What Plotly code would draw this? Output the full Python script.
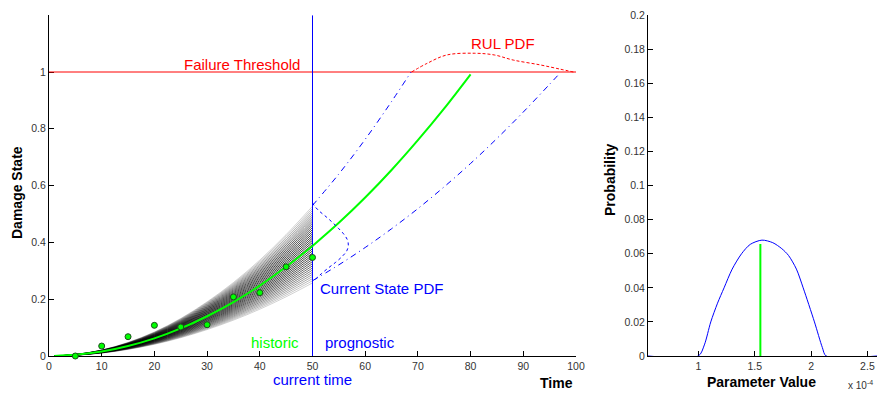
import numpy as np
import plotly.graph_objects as go

# ---------------- data ----------------
# measurements (historic)
meas_t = [5, 10, 15, 20, 25, 30, 35, 40, 45, 50]
meas_y = [0.0, 0.035, 0.068, 0.108, 0.102, 0.110, 0.208, 0.223, 0.314, 0.347]

# fitted damage trajectory (historic part)
fit_t = [1, 5, 10, 15, 20, 25, 30, 35, 40, 45, 50]
fit_y = [0.0002, 0.004, 0.0155, 0.035, 0.062, 0.097, 0.140, 0.190, 0.248, 0.314, 0.3875]

# prognosis (median) trajectory
prog_t = [50, 55, 60, 65, 70, 75, 80]
prog_y = [0.3875, 0.469, 0.558, 0.655, 0.760, 0.872, 0.992]

# prediction bounds
upper_t = [50, 55, 60, 65, 68.7]
upper_y = [0.53, 0.641, 0.763, 0.896, 1.0]
lower_t = [50, 55, 60, 65, 70, 75, 80, 85, 90, 95, 97]
lower_y = [0.265, 0.321, 0.382, 0.448, 0.519, 0.596, 0.678, 0.766, 0.859, 0.957, 0.997]

# particle parameter values (x 1e-4) for the trajectory fan
fan_theta = [1.03, 1.06, 1.09, 1.12, 1.15, 1.18, 1.21, 1.24, 1.27, 1.30, 1.33, 1.36,
             1.39, 1.42, 1.45, 1.48, 1.51, 1.54, 1.57, 1.60, 1.63, 1.66, 1.69, 1.72,
             1.75, 1.78, 1.81, 1.84, 1.87, 1.90, 1.93, 1.96, 1.99, 2.02, 2.05, 2.08, 2.11]
fit_theta = 1.55

# current state PDF (drawn sideways at t = 50)
cs_t = [50.0, 50.3, 51.3, 52.6, 53.8, 54.9, 55.9, 56.6, 56.8, 56.5, 55.6, 54.4, 53.0, 51.7, 50.5, 50.0]
cs_y = [0.54, 0.53, 0.51, 0.49, 0.47, 0.45, 0.43, 0.41, 0.39, 0.37, 0.35, 0.33, 0.31, 0.29, 0.27, 0.265]

# RUL PDF (above the threshold)
rul_t = [68.8, 71.7, 75.5, 80.8, 84.5, 88.1, 93.2, 97.0, 99.5]
rul_y = [1.0, 1.03, 1.06, 1.066, 1.06, 1.042, 1.025, 1.01, 1.0]

# parameter PDF (right panel), x in units of 1e-4
par_x = [0.553, 1.0, 1.053, 1.11, 1.17, 1.228, 1.30, 1.383, 1.46, 1.564, 1.66, 1.74, 1.80, 1.87, 1.93, 2.03, 2.10, 2.134, 2.585]
par_y = [0.0, 0.0, 0.0065, 0.02, 0.031, 0.04, 0.051, 0.06, 0.0655, 0.068, 0.0665, 0.063, 0.059, 0.051, 0.04, 0.02, 0.005, 0.0, 0.0]
par_est = 1.55
par_est_p = 0.0657

x1_ticks = [0, 10, 20, 30, 40, 50, 60, 70, 80, 90, 100]
y1_ticks = [0, 0.2, 0.4, 0.6, 0.8, 1]
y1_text = ["0", "0.2", "0.4", "0.6", "0.8", "1"]
x2_ticks = [1, 1.5, 2, 2.5]
x2_text = ["1", "1.5", "2", "2.5"]
y2_ticks = [0, 0.02, 0.04, 0.06, 0.08, 0.1, 0.12, 0.14, 0.16, 0.18, 0.2]
y2_text = ["0", "0.02", "0.04", "0.06", "0.08", "0.1", "0.12", "0.14", "0.16", "0.18", "0.2"]

t_now = 50
threshold = 1.0

# ---------------- figure ----------------
W, H = 885, 393
FONT = "Liberation Sans, Arial, Helvetica, sans-serif"
BLUE = "#0000ff"
GREEN = "#00ff00"
RED = "#ff0000"

fig = go.Figure()

pmax = max(par_y)
for th in fan_theta:
    w = float(np.interp(th, par_x, par_y)) / pmax
    a = 0.15 + 0.6 * w
    fig.add_trace(go.Scatter(
        x=fit_t, y=[v * th / fit_theta for v in fit_y], mode="lines",
        line=dict(color=f"rgba(0,0,0,{a:.3f})", width=1, shape="spline"),
        xaxis="x", yaxis="y", hoverinfo="skip", showlegend=False))

# threshold line
fig.add_trace(go.Scatter(x=[0, 100], y=[threshold, threshold], mode="lines",
                         line=dict(color=RED, width=1), showlegend=False))
# current time line
fig.add_trace(go.Scatter(x=[t_now, t_now], y=[0, 1.2], mode="lines",
                         line=dict(color=BLUE, width=1), showlegend=False))

# fit + prognosis
fig.add_trace(go.Scatter(x=fit_t, y=fit_y, mode="lines",
                         line=dict(color=GREEN, width=2, shape="spline"), showlegend=False))
fig.add_trace(go.Scatter(x=prog_t, y=prog_y, mode="lines",
                         line=dict(color=GREEN, width=2, shape="spline"), showlegend=False))

# bounds
fig.add_trace(go.Scatter(x=upper_t, y=upper_y, mode="lines",
                         line=dict(color=BLUE, width=1, dash="6px,4px,1px,4px", shape="spline"), showlegend=False))
fig.add_trace(go.Scatter(x=lower_t, y=lower_y, mode="lines",
                         line=dict(color=BLUE, width=1, dash="6px,4px,1px,4px", shape="spline"), showlegend=False))

# current state pdf
fig.add_trace(go.Scatter(x=cs_t, y=cs_y, mode="lines",
                         line=dict(color=BLUE, width=1, dash="3px,3px", shape="spline"), showlegend=False))
# RUL pdf
fig.add_trace(go.Scatter(x=rul_t, y=rul_y, mode="lines",
                         line=dict(color=RED, width=1, dash="3px,2px", shape="spline"), showlegend=False))

# measurements
fig.add_trace(go.Scatter(x=meas_t, y=meas_y, mode="markers",
                         marker=dict(color=GREEN, size=6, line=dict(color="#1e4a1e", width=1)),
                         showlegend=False, cliponaxis=False))

# right panel
fig.add_trace(go.Scatter(x=par_x, y=par_y, mode="lines", xaxis="x2", yaxis="y2", cliponaxis=False,
                         line=dict(color=BLUE, width=1, shape="spline", smoothing=0.8), showlegend=False))
fig.add_trace(go.Scatter(x=[par_est, par_est], y=[0, par_est_p], mode="lines", xaxis="x2", yaxis="y2",
                         line=dict(color=GREEN, width=2), showlegend=False))

ydom = [(H - 356) / H, (H - 15.2) / H]
axis_common = dict(showgrid=False, zeroline=False, showline=True, linecolor="black", linewidth=1,
                   ticks="inside", ticklen=5, tickcolor="black", automargin=False,
                   layer="below traces",
                   tickfont=dict(family=FONT, size=10.5, color="#333333"))

fig.update_layout(
    width=W, height=H,
    margin=dict(l=0, r=0, t=0, b=0, autoexpand=False),
    paper_bgcolor="white", plot_bgcolor="white",
    showlegend=False,
    xaxis=dict(domain=[49 / W, 576 / W], range=[0, 100], tickvals=x1_ticks,
               anchor="y", **axis_common),
    yaxis=dict(domain=ydom, range=[0, 1.2], tickvals=y1_ticks, ticktext=y1_text,
               anchor="x", **axis_common),
    xaxis2=dict(domain=[648 / W, 877 / W], range=[0.553, 2.585], tickvals=x2_ticks, ticktext=x2_text,
                anchor="y2", **axis_common),
    yaxis2=dict(domain=ydom, range=[0, 0.2], tickvals=y2_ticks, ticktext=y2_text,
                anchor="x2", **axis_common),
)


def ann(text, x, y, color="black", size=14.5, xanchor="center", yanchor="middle",
        xref="x", yref="y", textangle=0, bold=False):
    if bold:
        text = f"<b>{text}</b>"
    fig.add_annotation(text=text, x=x, y=y, xref=xref, yref=yref, showarrow=False,
                       xanchor=xanchor, yanchor=yanchor, textangle=textangle,
                       font=dict(family=FONT, size=size, color=color))


def px(xp, yp):
    return xp / W, 1 - yp / H


ann("Failure Threshold", 48.0, 1.025, color=RED, size=15, xanchor="right")
ann("RUL PDF", 86.1, 1.099, color=RED, size=15)
ann("Current State PDF", 51.0, 0.239, color=BLUE, size=15, xanchor="left")
ann("historic", 47.8, 0.047, color=GREEN, size=15, xanchor="right")
ann("prognostic", 51.9, 0.047, color=BLUE, size=15, xanchor="left")
x, y = px(312, 379)
ann("current time", x, y, xref="paper", yref="paper", color=BLUE, size=15)

x, y = px(575, 382.7)
ann("Time", x, y, xref="paper", yref="paper", xanchor="right", size=14, bold=True)
x, y = px(17, 193)
ann("Damage State", x, y, xref="paper", yref="paper", textangle=-90, size=14, bold=True)
x, y = px(610, 180)
ann("Probability", x, y, xref="paper", yref="paper", textangle=-90, size=14, bold=True)
x, y = px(761, 381.7)
ann("Parameter Value", x, y, xref="paper", yref="paper", size=14, bold=True)
x, y = px(860, 385)
ann("x 10<sup>-4</sup>", x, y, xref="paper", yref="paper", size=10, color="#333333")

fig.write_html("out.html", config={"displayModeBar": False},
               post_script="document.body.style.margin='0';")
